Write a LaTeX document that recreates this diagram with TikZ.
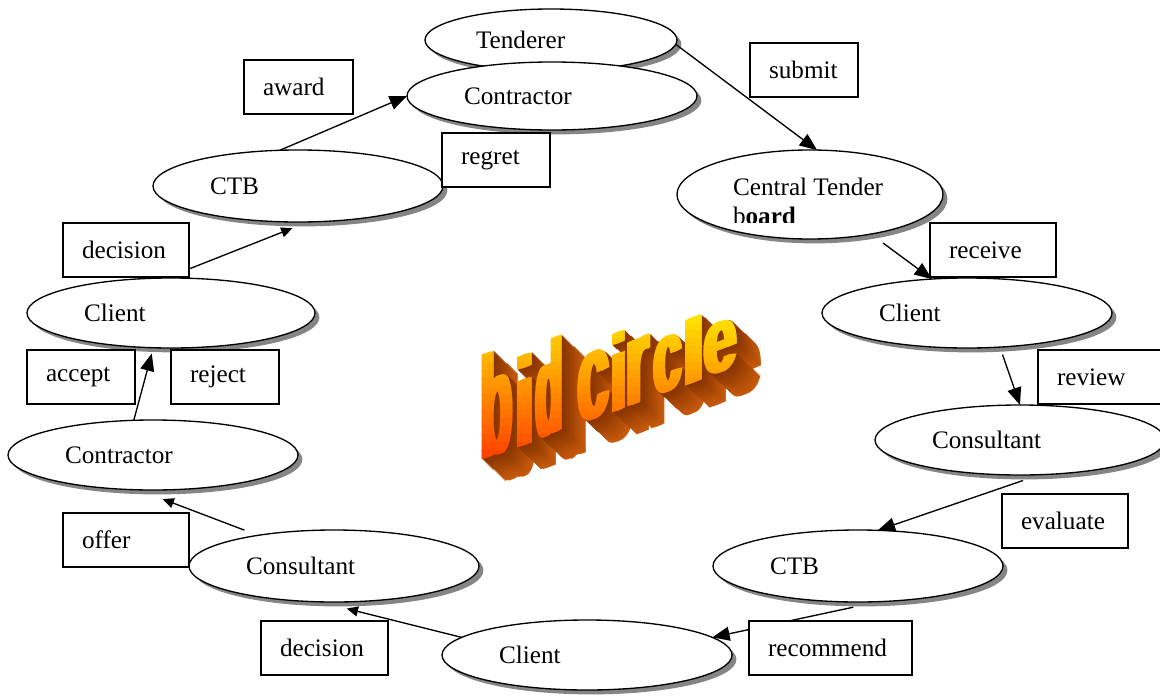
\documentclass[tikz,border=0pt]{standalone}
\usepackage{graphicx}
\usepackage{fontspec}
\setmainfont{Liberation Serif}
\newfontfamily\wafont{Liberation Sans}
\usetikzlibrary{shapes.geometric,arrows.meta,shadows}
\newdimen\pxu \pxu=0.75pt
\newcommand{\mainfs}{\fontsize{18.9pt}{21.75pt}\selectfont}
\definecolor{exnear}{RGB}{135,52,0}
\definecolor{exfar}{RGB}{200,90,12}
\newcommand{\wordart}[1]{%
  \node[wa,#1] (wa1) at (-3.5,0) {\resizebox{31.7\pxu}{104\pxu}{b}};
  \node[wa,#1] (wa2) at (30,0) {\resizebox{20\pxu}{90\pxu}{i}};
  \node[wa,#1] (wa3) at (51.1,0) {\resizebox{26.8\pxu}{95\pxu}{d}};
  \node[wa,#1] (wa4) at (93.8,0) {\resizebox{31.4\pxu}{67\pxu}{c}};
  \node[wa,#1] (wa5) at (126,0) {\resizebox{16\pxu}{78\pxu}{i}};
  \node[wa,#1] (wa6) at (141.8,0) {\resizebox{23.2\pxu}{65\pxu}{r}};
  \node[wa,#1] (wa7) at (169,0) {\resizebox{27.9\pxu}{55\pxu}{c}};
  \node[wa,#1] (wa8) at (197,0) {\resizebox{24\pxu}{65\pxu}{l}};
  \node[wa,#1] (wa9) at (219.4,0) {\resizebox{33\pxu}{50\pxu}{e}};
}
\tikzset{
  ell/.style={ellipse, draw, fill=white, line width=1pt, inner sep=0pt, outer sep=0pt,
    align=left, font=\mainfs,
    drop shadow={shadow xshift=3.3pt, shadow yshift=-3.3pt, fill=black!48, opacity=1}},
  lbox/.style={rectangle, draw, fill=white, line width=1pt, inner xsep=14.25pt, inner ysep=0pt,
    outer sep=0pt, minimum height=40.5pt, align=left, anchor=north west, font=\mainfs},
  lbl/.style={inner sep=0pt, outer sep=0pt, font=\mainfs},
  arr/.style={line width=1pt, -{Triangle[length=13pt,width=10.5pt]}},
  arrs/.style={line width=1pt, -{Triangle[length=8.5pt,width=7.5pt]}},
  wa/.style={inner sep=0pt, outer sep=0pt, anchor=south west, transform shape, font=\wafont\bfseries}
}
\begin{document}
\begin{tikzpicture}[x=0.75pt,y=-0.75pt]
\useasboundingbox (0,0) rectangle (1160,696);
\fill[white] (0,0) rectangle (1160,696);
\clip (0,0) rectangle (1160,696);

% ---------- ellipses ----------
\node[ell, minimum width=189pt, minimum height=46.5pt, text width=112.5pt] (tend) at (551,40) {Tenderer};
\node[ell, minimum width=217.5pt, minimum height=51pt, text width=132pt] (contrT) at (552,96) {Contractor};
\node[ell, minimum width=199.5pt, minimum height=66.75pt] (ctb) at (810,194.5) {};
\begin{scope}
  \clip (700,160) rectangle (930,222.5);
  \node[lbl, anchor=base west] (ctbt1) at (733,195) {Central Tender};
  \node[lbl, anchor=base west] (ctbt2) at (733,224) {b\textbf{oard}};
\end{scope}
\node[ell, minimum width=217.5pt, minimum height=52.5pt, text width=132pt] (clientR) at (967,313) {Client};
\node[ell, minimum width=217.5pt, minimum height=52.5pt, text width=132pt] (consR) at (1020,440) {Consultant};
\node[ell, minimum width=217.5pt, minimum height=54pt, text width=132pt] (ctbR) at (858,566) {CTB};
\node[ell, minimum width=217.5pt, minimum height=52.5pt, text width=132pt] (clientB) at (587,655) {Client};
\node[ell, minimum width=217.5pt, minimum height=54pt, text width=132pt] (consB) at (334,566) {Consultant};
\node[ell, minimum width=217.5pt, minimum height=52.5pt, text width=132pt] (contrL) at (153,455) {Contractor};
\node[ell, minimum width=216pt, minimum height=52.5pt, text width=130.5pt] (clientL) at (171,313) {Client};
\node[ell, minimum width=217.5pt, minimum height=54pt, text width=132pt] (ctbL) at (298,186) {CTB};

% ---------- connectors ----------
\draw[arr] (tend.-2) -- (ctb.81);
\draw[arr, shorten <=11.25pt] (ctb.-33) -- (clientR.136);
\draw[arr, shorten <=6pt] (clientR.-46) -- (consR.90);
\draw[arr, shorten <=13.5pt] (consR.-60) -- (ctbR.61);
\draw[arr, shorten <=20pt] (ctbR.-59) -- (clientB.8);
\draw[arrs, shorten >=21pt] (clientB.172) -- (consB.-112);
\draw[arrs, shorten <=11pt, shorten >=19.5pt] (consB.158) -- (contrL.-113);
\draw[arr, shorten >=4.5pt] (contrL.119) -- (clientL.-117);
\draw[arrs, shorten <=19.5pt, shorten >=12.75pt] (clientL.98) -- (ctbL.-74);
\draw[arr] (ctbL.117) -- (contrT.west);

% ---------- label boxes ----------
\node[lbox, text width=53.25pt] (award) at (244,60) {award};
\node[lbox, text width=52.5pt] (submit) at (750,43) {submit};
\node[lbox, text width=52.5pt] (regret) at (442,133) {regret};
\node[lbox, text width=66pt] (receive) at (930,223) {receive};
\node[lbox, text width=66pt] (decisionL) at (63,223) {decision};
\node[lbox, text width=66pt] (review) at (1038,350) {review};
\node[lbox, text width=52.5pt] (accept) at (27,350) {accept};
\node[lbox, text width=52.5pt] (reject) at (171,350) {reject};
\node[lbox, text width=66pt] (evaluate) at (1002,494) {evaluate};
\node[lbox, text width=93.75pt] (recommend) at (749,621) {recommend};
\node[lbox, text width=66pt] (offer) at (63,513) {offer};
\node[lbox, text width=66.75pt] (decisionB) at (261,621) {decision};

% ---------- WordArt "bid circle" ----------
\begin{scope}[shift={(482,461)}, yslant=0.37]
  \foreach \d in {24,23,...,1} {
    \pgfmathtruncatemacro\m{round((\d-1)/23*100)}
    \colorlet{excol}{exfar!\m!exnear}
    \foreach \k in {0,2.5,5} {
      \begin{scope}[shift={(\d+\k,1.29*\d)}]
        \wordart{text=excol}
      \end{scope}
    }
  }
\end{scope}
\foreach \yb in {306,314,...,474} {
  \pgfmathtruncatemacro\G{max(45,min(230,50+(466-\yb)/155*180))}
  \definecolor{bandcol}{RGB}{255,\G,0}
  \begin{scope}
    \clip (460,\yb) rectangle (790,\yb+8.6);
    \begin{scope}[shift={(482,461)}, yslant=0.37]
      \foreach \k in {0,1.7,3.4,5} {
        \begin{scope}[shift={(\k,0)}]
          \wordart{text=bandcol}
        \end{scope}
      }
    \end{scope}
  \end{scope}
}
\end{tikzpicture}
\end{document}
